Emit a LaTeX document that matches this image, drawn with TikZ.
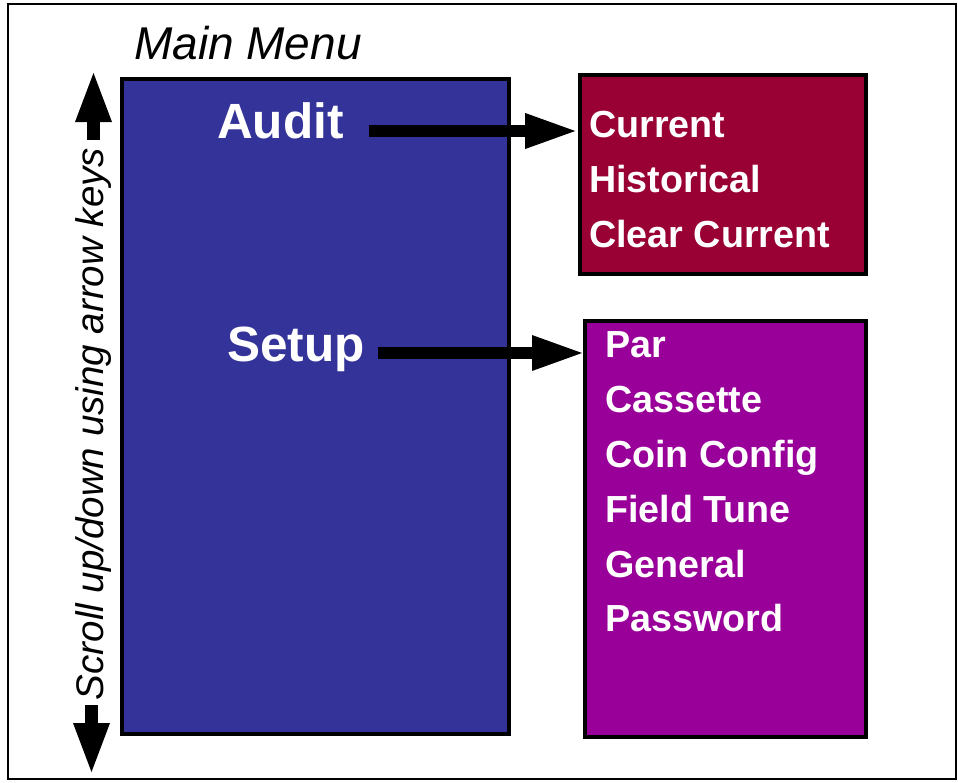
\documentclass[tikz,border=0pt]{standalone}
\usepackage{fontspec}
\setmainfont{Liberation Sans}
\usetikzlibrary{arrows.meta}

\definecolor{menublue}{HTML}{333399}
\definecolor{auditred}{HTML}{990033}
\definecolor{setuppurple}{HTML}{990099}

\begin{document}
\begin{tikzpicture}[x=1bp, y=-1bp,
  panel/.style={draw=black, line width=4bp, inner sep=0pt},
  heading/.style={font=\fontsize{49.5bp}{49.5bp}\selectfont\bfseries, text=white,
                  inner sep=0pt, anchor=base west},
  item/.style={font=\fontsize{37.7bp}{37.7bp}\selectfont\bfseries, text=white,
               inner sep=0pt, anchor=base west},
  bigarrow/.style={line width=12bp, -{Triangle[length=50bp, width=36bp, line width=0pt]}},
  scrollarrow/.style={line width=13bp, -{Triangle[length=49bp, width=37bp, line width=0pt]}}
]
\useasboundingbox (0,0) rectangle (958,783);

% outer frame
\draw[line width=2bp] (8.3,4.5) rectangle (956,779);

% title and scrolling hint
\node[anchor=base west, inner sep=0pt, font=\fontsize{46bp}{46bp}\selectfont\itshape]
  (title) at (134,60) {Main Menu};
\node[rotate=90, anchor=base, inner sep=0pt, font=\fontsize{38.5bp}{38.5bp}\selectfont\itshape]
  (scroll) at (103,424) {Scroll up/down using arrow keys};

% menu panels
\node[panel, fill=menublue, minimum width=387bp, minimum height=655bp]
  (menu) at (315.5,406.5) {};
\node[panel, fill=auditred, minimum width=285.8bp, minimum height=198.7bp]
  (auditbox) at (722.6,174.65) {};
\node[panel, fill=setuppurple, minimum width=280.5bp, minimum height=416.5bp]
  (setupbox) at (725.25,528.75) {};

% main menu entries
\node[heading] (audit) at (217,138) {Audit};
\node[heading] (setup) at (227,361) {Setup};

% audit sub-menu
\node[item] (current)    at (589,137) {Current};
\node[item] (historical) at (589,192) {Historical};
\node[item] (clear)      at (589,247) {Clear Current};

% setup sub-menu
\node[item] (par)      at (605,357) {Par};
\node[item] (cassette) at (605,412) {Cassette};
\node[item] (coin)     at (605,467) {Coin Config};
\node[item] (field)    at (605,522) {Field Tune};
\node[item] (general)  at (605,577) {General};
\node[item] (password) at (605,631) {Password};

% arrows from entries to their sub-menus
\coordinate (auditfrom) at (369,131);
\coordinate (setupfrom) at (378,353);
\draw[bigarrow, shorten >=2.5bp] (auditfrom) -- (auditfrom -| auditbox.west);
\draw[bigarrow, shorten >=1bp]   (setupfrom) -- (setupfrom -| setupbox.west);

% scroll arrows
\coordinate (upfoot)   at (93.5,140);
\coordinate (uphead)   at (93.5,73);
\coordinate (downfoot) at (91.5,705);
\coordinate (downhead) at (91.5,772);
\draw[scrollarrow] (upfoot) -- (uphead);
\draw[scrollarrow] (downfoot) -- (downhead);
\end{tikzpicture}
\end{document}
